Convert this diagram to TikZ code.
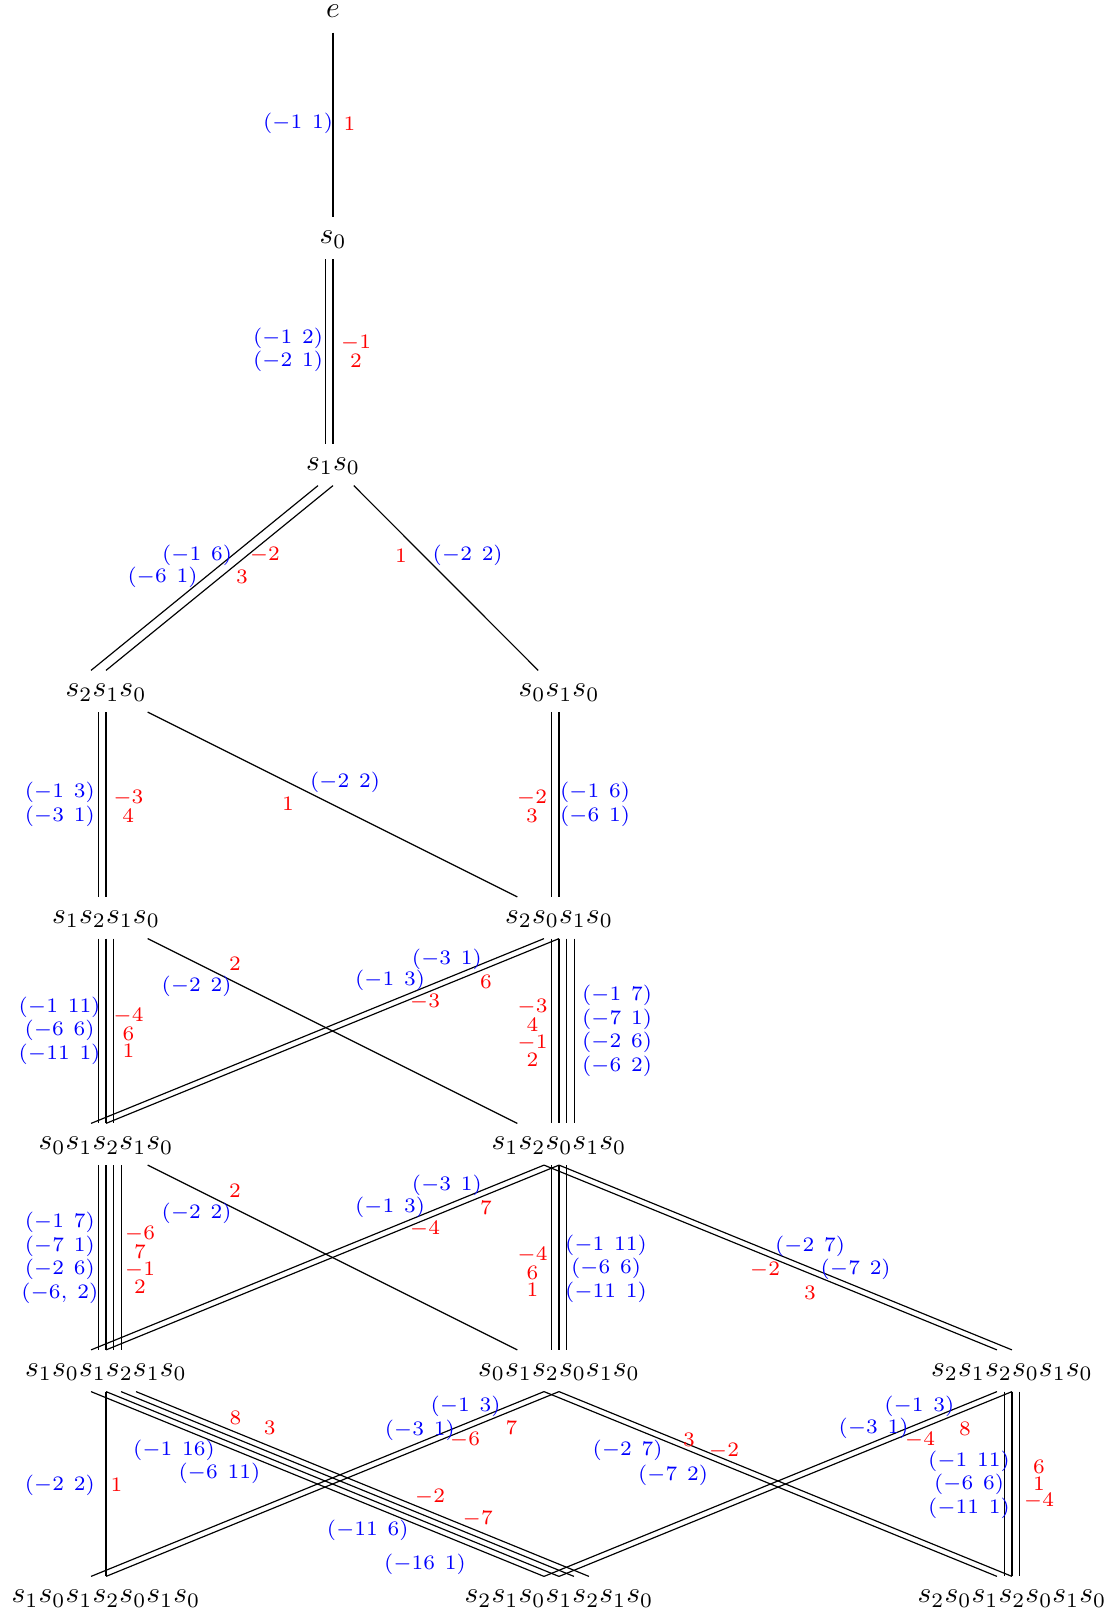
\documentclass[tikz,border=0pt]{standalone}
\usepackage{amsmath}
\newcommand\medge[4]{\foreach \k in {#4}{\draw ([xshift=\k*#3]#1.south) -- ([xshift=\k*#3]#2.north);}}
\begin{document}
\begin{tikzpicture}[x=0.3401pt,y=-0.3401pt,
  cell/.style={anchor=base,text height=4.31pt,text depth=0.53pt,inner ysep=4.47pt,inner xsep=3.33pt},
  bl/.style={text=blue,inner sep=0pt},
  rd/.style={text=red,inner sep=0pt}]
\useasboundingbox (0,0) rectangle (1114,1613);
% nodes
\node[cell] (e) at (333,17.3) {$e$};
\node[cell] (s0) at (333,243.8) {$s_0$};
\node[cell] (s10) at (333,470.3) {$s_1s_0$};
\node[cell] (s210) at (106,696.8) {$s_2s_1s_0$};
\node[cell] (s010) at (559,696.8) {$s_0s_1s_0$};
\node[cell] (s1210) at (106,923.3) {$s_1s_2s_1s_0$};
\node[cell] (s2010) at (559,923.3) {$s_2s_0s_1s_0$};
\node[cell] (s01210) at (106,1149.8) {$s_0s_1s_2s_1s_0$};
\node[cell] (s12010) at (559,1149.8) {$s_1s_2s_0s_1s_0$};
\node[cell] (s101210) at (106,1376.3) {$s_1s_0s_1s_2s_1s_0$};
\node[cell] (s012010) at (559,1376.3) {$s_0s_1s_2s_0s_1s_0$};
\node[cell] (s212010) at (1012,1376.3) {$s_2s_1s_2s_0s_1s_0$};
\node[cell] (s1012010) at (106,1602.8) {$s_1s_0s_1s_2s_0s_1s_0$};
\node[cell] (s2101210) at (559,1602.8) {$s_2s_1s_0s_1s_2s_1s_0$};
\node[cell] (s2012010) at (1012,1602.8) {$s_2s_0s_1s_2s_0s_1s_0$};
% edges
\draw (e) -- (s0);
\medge{s0}{s10}{2.62pt}{-1,0}
\medge{s10}{s210}{5.1pt}{-1,0}
\draw (s10) -- (s010);
\medge{s210}{s1210}{2.62pt}{-1,0}
\draw (s210) -- (s2010);
\medge{s010}{s2010}{2.62pt}{-1,0}
\medge{s1210}{s01210}{2.62pt}{-1,0,1}
\draw (s1210) -- (s12010);
\medge{s2010}{s01210}{5.1pt}{-1,0}
\medge{s2010}{s12010}{2.62pt}{-1,0,1,2}
\medge{s01210}{s101210}{2.62pt}{-1,0,1,2}
\draw (s01210) -- (s012010);
\medge{s12010}{s101210}{5.1pt}{-1,0}
\medge{s12010}{s012010}{2.62pt}{-1,0,1}
\medge{s12010}{s212010}{5.1pt}{-1,0}
\draw (s101210) -- (s1012010);
\medge{s101210}{s2101210}{5.1pt}{-1,0,1,2}
\medge{s012010}{s1012010}{5.1pt}{-1,0}
\medge{s012010}{s2012010}{5.1pt}{-1,0}
\medge{s212010}{s2101210}{5.1pt}{-1,0}
\medge{s212010}{s2012010}{2.62pt}{-1,0,1}
% vertical-edge labels
\node[bl] (l1) at (298,123.5) {$\scriptstyle(-1\ 1)$};
\node[rd] (l2) at (349.5,123.5) {$\scriptstyle1$};
\node[bl] (l3) at (288,350) {$\substack{(-1\ 2)\\(-2\ 1)}$};
\node[rd] (l4) at (356,351.2) {$\substack{-1\\2}$};
\node[bl] (l5) at (59.8,804.2) {$\substack{(-1\ 3)\\(-3\ 1)}$};
\node[rd] (l6) at (128.3,806) {$\substack{-3\\4}$};
\node[rd] (l7) at (532,806) {$\substack{-2\\3}$};
\node[bl] (l8) at (595,804.2) {$\substack{(-1\ 6)\\(-6\ 1)}$};
\node[bl] (l9) at (59.6,1030.6) {$\substack{(-1\ 11)\\(-6\ 6)\\(-11\ 1)}$};
\node[rd] (l10) at (128.5,1032.7) {$\substack{-4\\6\\1}$};
\node[rd] (l11) at (532.5,1033) {$\substack{-3\\4\\-1\\2}$};
\node[bl] (l12) at (617,1031) {$\substack{(-1\ 7)\\(-7\ 1)\\(-2\ 6)\\(-6\ 2)}$};
\node[bl] (l13) at (59.8,1258) {$\substack{(-1\ 7)\\(-7\ 1)\\(-2\ 6)\\(-6,\ 2)}$};
\node[rd] (l14) at (140,1260) {$\substack{-6\\7\\-1\\2}$};
\node[rd] (l15) at (532.5,1272) {$\substack{-4\\6\\1}$};
\node[bl] (l16) at (606,1268.5) {$\substack{(-1\ 11)\\(-6\ 6)\\(-11\ 1)}$};
\node[bl] (l17) at (969,1484.6) {$\substack{(-1\ 11)\\(-6\ 6)\\(-11\ 1)}$};
\node[rd] (l18) at (1039,1484.6) {$\substack{6\\1\\-4}$};
\node[bl] (l19) at (59.8,1485) {$\scriptstyle(-2\ 2)$};
\node[rd] (l20) at (116.5,1485) {$\scriptstyle1$};
% diagonal-edge labels
\node[bl] (m1) at (197,555) {$\scriptstyle(-1\ 6)$};
\node[bl] (m2) at (162.5,577) {$\scriptstyle(-6\ 1)$};
\node[rd] (m3) at (264.8,555) {$\scriptstyle-2$};
\node[rd] (m4) at (242,577) {$\scriptstyle3$};
\node[rd] (m5) at (401,555.5) {$\scriptstyle1$};
\node[bl] (m6) at (467.7,555.5) {$\scriptstyle(-2\ 2)$};
\node[bl] (m7) at (345,782) {$\scriptstyle(-2\ 2)$};
\node[rd] (m8) at (288,804) {$\scriptstyle1$};
\node[rd] (m9) at (235,964.3) {$\scriptstyle2$};
\node[bl] (m10) at (196.6,986) {$\scriptstyle(-2\ 2)$};
\node[bl] (m11) at (446.9,959.3) {$\scriptstyle(-3\ 1)$};
\node[bl] (m12) at (390,980) {$\scriptstyle(-1\ 3)$};
\node[rd] (m13) at (486,981.7) {$\scriptstyle6$};
\node[rd] (m14) at (425,1001.7) {$\scriptstyle-3$};
\node[rd] (m15) at (235,1190.5) {$\scriptstyle2$};
\node[bl] (m16) at (196.6,1213) {$\scriptstyle(-2\ 2)$};
\node[bl] (m17) at (446.9,1185) {$\scriptstyle(-3\ 1)$};
\node[bl] (m18) at (390,1207.7) {$\scriptstyle(-1\ 3)$};
\node[rd] (m19) at (486,1208.3) {$\scriptstyle7$};
\node[rd] (m20) at (425,1229.3) {$\scriptstyle-4$};
\node[bl] (m21) at (810,1246) {$\scriptstyle(-2\ 7)$};
\node[bl] (m22) at (855.7,1269.3) {$\scriptstyle(-7\ 2)$};
\node[rd] (m23) at (765,1270) {$\scriptstyle-2$};
\node[rd] (m24) at (810,1292.7) {$\scriptstyle3$};
\node[rd] (m25) at (235.6,1418.3) {$\scriptstyle8$};
\node[rd] (m26) at (269.8,1428.3) {$\scriptstyle3$};
\node[bl] (m27) at (174,1450.7) {$\scriptstyle(-1\ 16)$};
\node[bl] (m28) at (219.4,1473.3) {$\scriptstyle(-6\ 11)$};
\node[rd] (m29) at (430,1496.7) {$\scriptstyle-2$};
\node[rd] (m30) at (477.7,1519) {$\scriptstyle-7$};
\node[bl] (m31) at (367.7,1530) {$\scriptstyle(-11\ 6)$};
\node[bl] (m32) at (425,1564) {$\scriptstyle(-16\ 1)$};
\node[bl] (m33) at (465.6,1406) {$\scriptstyle(-1\ 3)$};
\node[bl] (m34) at (419.8,1430) {$\scriptstyle(-3\ 1)$};
\node[rd] (m35) at (511.5,1428.3) {$\scriptstyle7$};
\node[rd] (m36) at (465,1440) {$\scriptstyle-6$};
\node[bl] (m37) at (627.6,1450.7) {$\scriptstyle(-2\ 7)$};
\node[bl] (m38) at (673,1475) {$\scriptstyle(-7\ 2)$};
\node[rd] (m39) at (689,1440) {$\scriptstyle3$};
\node[rd] (m40) at (724,1450.7) {$\scriptstyle-2$};
\node[bl] (m41) at (919.3,1406) {$\scriptstyle(-1\ 3)$};
\node[bl] (m42) at (873.6,1428.3) {$\scriptstyle(-3\ 1)$};
\node[rd] (m43) at (965,1429) {$\scriptstyle8$};
\node[rd] (m44) at (920,1440) {$\scriptstyle-4$};
\end{tikzpicture}
\end{document}
